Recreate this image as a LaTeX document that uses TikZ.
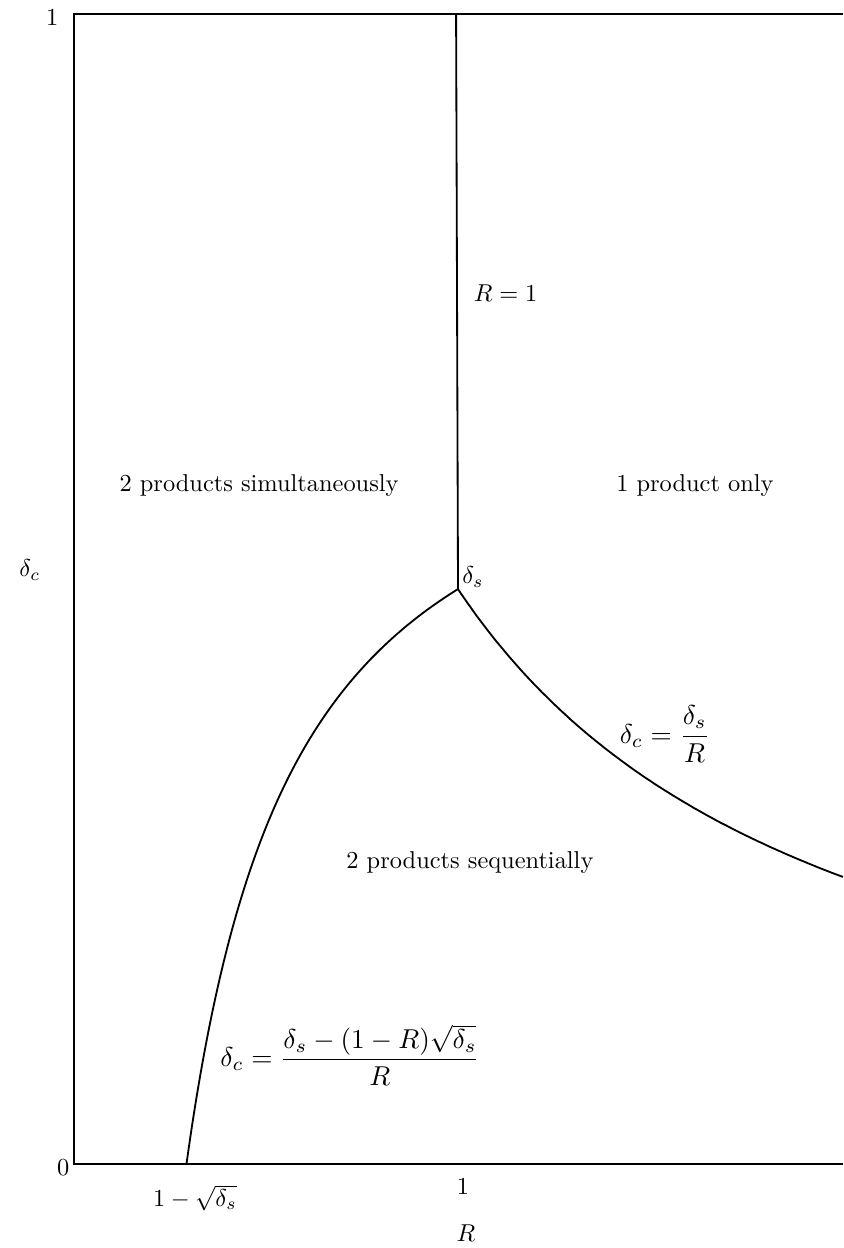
\documentclass[tikz,border=0pt]{standalone}
\begin{document}
\begin{tikzpicture}[x=157.44pt, y=471.5pt,
  curve/.style={line width=0.75pt, black},
  axis/.style={line width=0.75pt, black},
  lbl/.style={inner sep=0pt, font=\normalsize},
  flbl/.style={inner sep=0pt, anchor=west, scale=1.12}]
\useasboundingbox (-0.1927,-0.0730) rectangle (2.0026,1.0122);
% frame / axes
\coordinate (O) at (0,0);
\coordinate (TL) at (0,1);
\coordinate (TR) at (2.0026,1);
\coordinate (BR) at (2.0026,0);
\coordinate (T1) at (0.995,1);
\coordinate (P) at (1,0.5);
\draw[axis] (TR) -- (TL) -- (O) -- (BR);
\draw[curve] (T1) -- (P);
% boundary curves
\draw[curve] plot[domain=0.29289:1, samples=120] (\x, {(0.5-(1-\x)*0.70711)/\x});
\draw[curve] plot[domain=1:2.0026, samples=120] (\x, {0.5/\x});
% tick labels
\node[lbl] (y1) at (-0.057,0.9965) {$1$};
\node[lbl] (y0) at (-0.028,-0.0035) {$0$};
\node[lbl] (dc) at (-0.115,0.5165) {$\delta_c$};
\node[lbl] (x0) at (0.315,-0.0296) {$1-\sqrt{\delta_s}$};
\node[lbl] (x1) at (1.013,-0.020) {$1$};
\node[lbl] (xR) at (1.021,-0.060) {$R$};
% region and curve labels
\node[lbl, anchor=west] (r1) at (1.04,0.757) {$R=1$};
\node[lbl] (sim) at (0.482,0.590) {2 products simultaneously};
\node[lbl] (one) at (1.617,0.590) {1 product only};
\node[lbl, anchor=west] (ds) at (1.01,0.5105) {$\delta_s$};
\node[flbl] (f1) at (1.42,0.374) {$\displaystyle \delta_c=\frac{\delta_s}{R}$};
\node[lbl] (seq) at (1.031,0.2626) {2 products sequentially};
\node[flbl] (f2) at (0.380,0.0948) {$\displaystyle \delta_c=\frac{\delta_s-(1-R)\sqrt{\delta_s}}{R}$};
\end{tikzpicture}
\end{document}
